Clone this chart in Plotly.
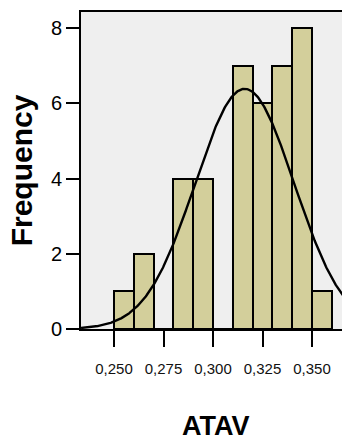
import numpy as np
import plotly.graph_objects as go

# Histogram data
bin_starts = [0.250, 0.260, 0.270, 0.280, 0.290, 0.300, 0.310, 0.320, 0.330, 0.340, 0.350]
counts = [1, 2, 0, 4, 4, 0, 7, 6, 7, 8, 1]
bin_width = 0.010
n_total = sum(counts)

# Fitted normal curve parameters
fit_mean = 0.316
fit_sd = 0.025

x_tickvals = [0.250, 0.275, 0.300, 0.325, 0.350]
x_ticktext = ["0,250", "0,275", "0,300", "0,325", "0,350"]
y_tickvals = [0, 2, 4, 6, 8]

x_range = [0.23333, 0.36515]
y_range = [0, 8.425]

centers = [b + bin_width / 2 for b in bin_starts]

xs = np.linspace(x_range[0], x_range[1] + 0.01, 400)
ys = n_total * bin_width / (fit_sd * np.sqrt(2 * np.pi)) * np.exp(-0.5 * ((xs - fit_mean) / fit_sd) ** 2)

fig = go.Figure()
fig.add_trace(go.Bar(
    x=centers, y=counts, width=bin_width,
    marker=dict(color="#d3cf9b", line=dict(color="black", width=2)),
    hoverinfo="skip",
))
fig.add_trace(go.Scatter(
    x=xs, y=ys, mode="lines",
    line=dict(color="black", width=2.4),
    hoverinfo="skip",
))

font_family = "Liberation Sans, Arial, sans-serif"

fig.update_layout(
    width=342, height=441,
    margin=dict(l=81, r=0, t=12, b=112, pad=0),
    paper_bgcolor="white",
    plot_bgcolor="#efefef",
    showlegend=False,
    bargap=0,
    font=dict(family=font_family, color="black"),
    xaxis=dict(
        range=x_range,
        tickvals=x_tickvals, ticktext=x_ticktext,
        ticks="outside", ticklen=16, tickwidth=2, tickcolor="black",
        tickfont=dict(size=15, family=font_family, color="#111"),
        ticklabelstandoff=9,
        showline=True, linecolor="black", linewidth=2, mirror=True,
        showgrid=False, zeroline=False,
    ),
    yaxis=dict(
        range=y_range,
        tickvals=y_tickvals,
        ticks="outside", ticklen=13, tickwidth=2, tickcolor="black",
        tickfont=dict(size=20, family=font_family, color="black"),
        showline=True, linecolor="black", linewidth=2,
        showgrid=False, zeroline=False,
        title=dict(text="<b>Frequency</b>", font=dict(size=30, family=font_family, color="black"), standoff=9),
    ),
    annotations=[dict(
        text="<b>ATAV</b>", xref="paper", yref="paper",
        x=0.517, y=0, yshift=-80, xanchor="center", yanchor="top",
        showarrow=False, font=dict(size=27, family=font_family, color="black"),
    )],
)

fig.write_html("out.html")
